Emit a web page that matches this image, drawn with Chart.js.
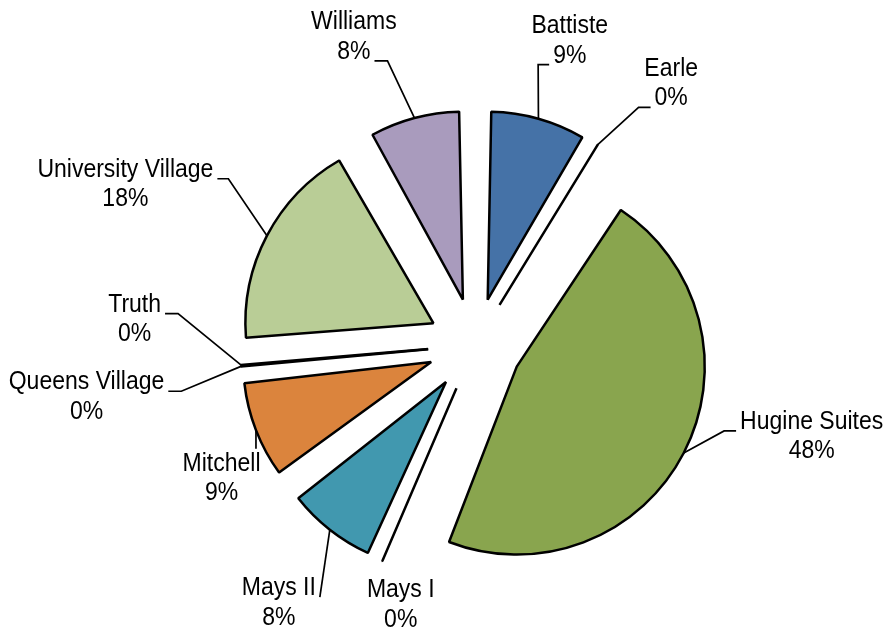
<!DOCTYPE html>
<html lang="en">
<head>
  <meta charset="UTF-8" />
  <title>Residence Hall Share</title>
  <script src="https://cdn.jsdelivr.net/npm/chart.js"></script>
  <style>
    html, body { margin: 0; padding: 0; background: #fff; }
    #wrap { width: 890px; height: 633px; position: relative; }
  </style>
</head>
<body>
  <div id="wrap"><canvas id="hallChart"></canvas></div>

  <script>
    // data, clockwise from 12 o'clock
    const halls = ['Battiste', 'Earle', 'Hugine Suites', 'Mays I', 'Mays II', 'Mitchell',
                   'Queens Village', 'Truth', 'University Village', 'Williams'];
    const shares = [8.7, 0.1, 47.6, 0.1, 8.2, 8.8, 0.1, 0.1, 18.0, 8.3];
    const sliceColors = ['#4572A7', '#4572A7', '#89A54E', '#4198AF', '#4198AF', '#DB843D',
                         '#DB843D', '#B9CD96', '#B9CD96', '#A99BBD'];

    // label placement: [angle in degrees clockwise from top, distance from pie centre]
    const labelSpots = [[16.9, 326], [36.1, 333], [104.0, 347], [196.4, 263], [218.1, 318],
                        [243.6, 283], [263.5, 391], [275.6, 342], [295.7, 388], [339.0, 338]];
    // leader line: [text line it starts at, side, tick length] or null
    const leaders = [[1, 'left', 11], [1, 'left', 12], [0, 'left', 12], null, [0, 'right', 0],
                     [0, 'top', 0], [0, 'right', 13], [0, 'right', 13], [0, 'right', 11], [1, 'right', 13]];

    const pieRadius = 188;
    const explode = 188;   // chart.js moves the arc by offset / 4
    const lineGap = 29.5;
    const squash = 0.92;

    const total = shares.reduce((a, b) => a + b, 0);
    const pctText = shares.map(v => Math.round(v / total * 100) + '%');

    // chart.js also grows small offset arcs; shrink them back so every slice has the same radius
    function radiusGrowth(arc) {
      return explode / 4 * (1 - Math.sin(Math.min(Math.PI, arc.circumference)));
    }

    const hallLabels = {
      id: 'hallLabels',
      beforeDatasetsDraw(chart) {
        chart.getDatasetMeta(0).data.forEach(arc => {
          arc.outerRadius = pieRadius - radiusGrowth(arc);
        });
      },
      afterDatasetsDraw(chart) {
        const ctx = chart.ctx;
        const arcs = chart.getDatasetMeta(0).data;
        ctx.save();
        ctx.font = '25px "Liberation Sans", Arial, sans-serif';
        ctx.fillStyle = '#000';
        ctx.strokeStyle = '#000';
        ctx.lineWidth = 1.7;
        arcs.forEach((arc, i) => {
          const p = arc.getProps(['x', 'y', 'startAngle', 'endAngle'], true);
          const mid = (p.startAngle + p.endAngle) / 2;
          const reach = explode / 4 + pieRadius;
          const tx = p.x + Math.cos(mid) * reach;
          const ty = p.y + Math.sin(mid) * reach;

          const a = (labelSpots[i][0] - 90) * Math.PI / 180;
          const lx = p.x + Math.cos(a) * labelSpots[i][1];
          const ly = p.y + Math.sin(a) * labelSpots[i][1];
          const lines = [halls[i], pctText[i]];
          lines.forEach((t, k) => {
            ctx.save();
            ctx.translate(lx, ly + k * lineGap);
            ctx.scale(squash, 1);
            ctx.textAlign = 'center';
            ctx.textBaseline = 'alphabetic';
            ctx.fillText(t, 0, 0);
            ctx.restore();
          });

          const lead = leaders[i];
          if (!lead) return;
          const [li, side, tick] = lead;
          const w = ctx.measureText(lines[li]).width * squash;
          ctx.beginPath();
          if (side === 'top') {
            const sx = Math.min(Math.max(tx, lx - w / 2), lx + w / 2);
            ctx.moveTo(sx, ly - 22);
          } else {
            const dir = side === 'left' ? -1 : 1;
            const sx = lx + dir * (w / 2 + 4);
            const sy = ly + li * lineGap + 2;
            ctx.moveTo(sx, sy);
            ctx.lineTo(sx + dir * tick, sy);
          }
          ctx.lineTo(tx, ty);
          ctx.stroke();
        });
        ctx.restore();
      }
    };

    new Chart(document.getElementById('hallChart'), {
      type: 'pie',
      data: {
        labels: halls,
        datasets: [{
          data: shares,
          backgroundColor: sliceColors,
          borderColor: '#000',
          borderWidth: 2.5,
          offset: explode
        }]
      },
      options: {
        responsive: true,
        maintainAspectRatio: false,
        animation: false,
        radius: pieRadius,
        layout: { padding: { left: 60, right: 0, top: 57, bottom: 0 } },
        plugins: {
          legend: { display: false },
          tooltip: { enabled: false }
        }
      },
      plugins: [hallLabels]
    });
  </script>
</body>
</html>
